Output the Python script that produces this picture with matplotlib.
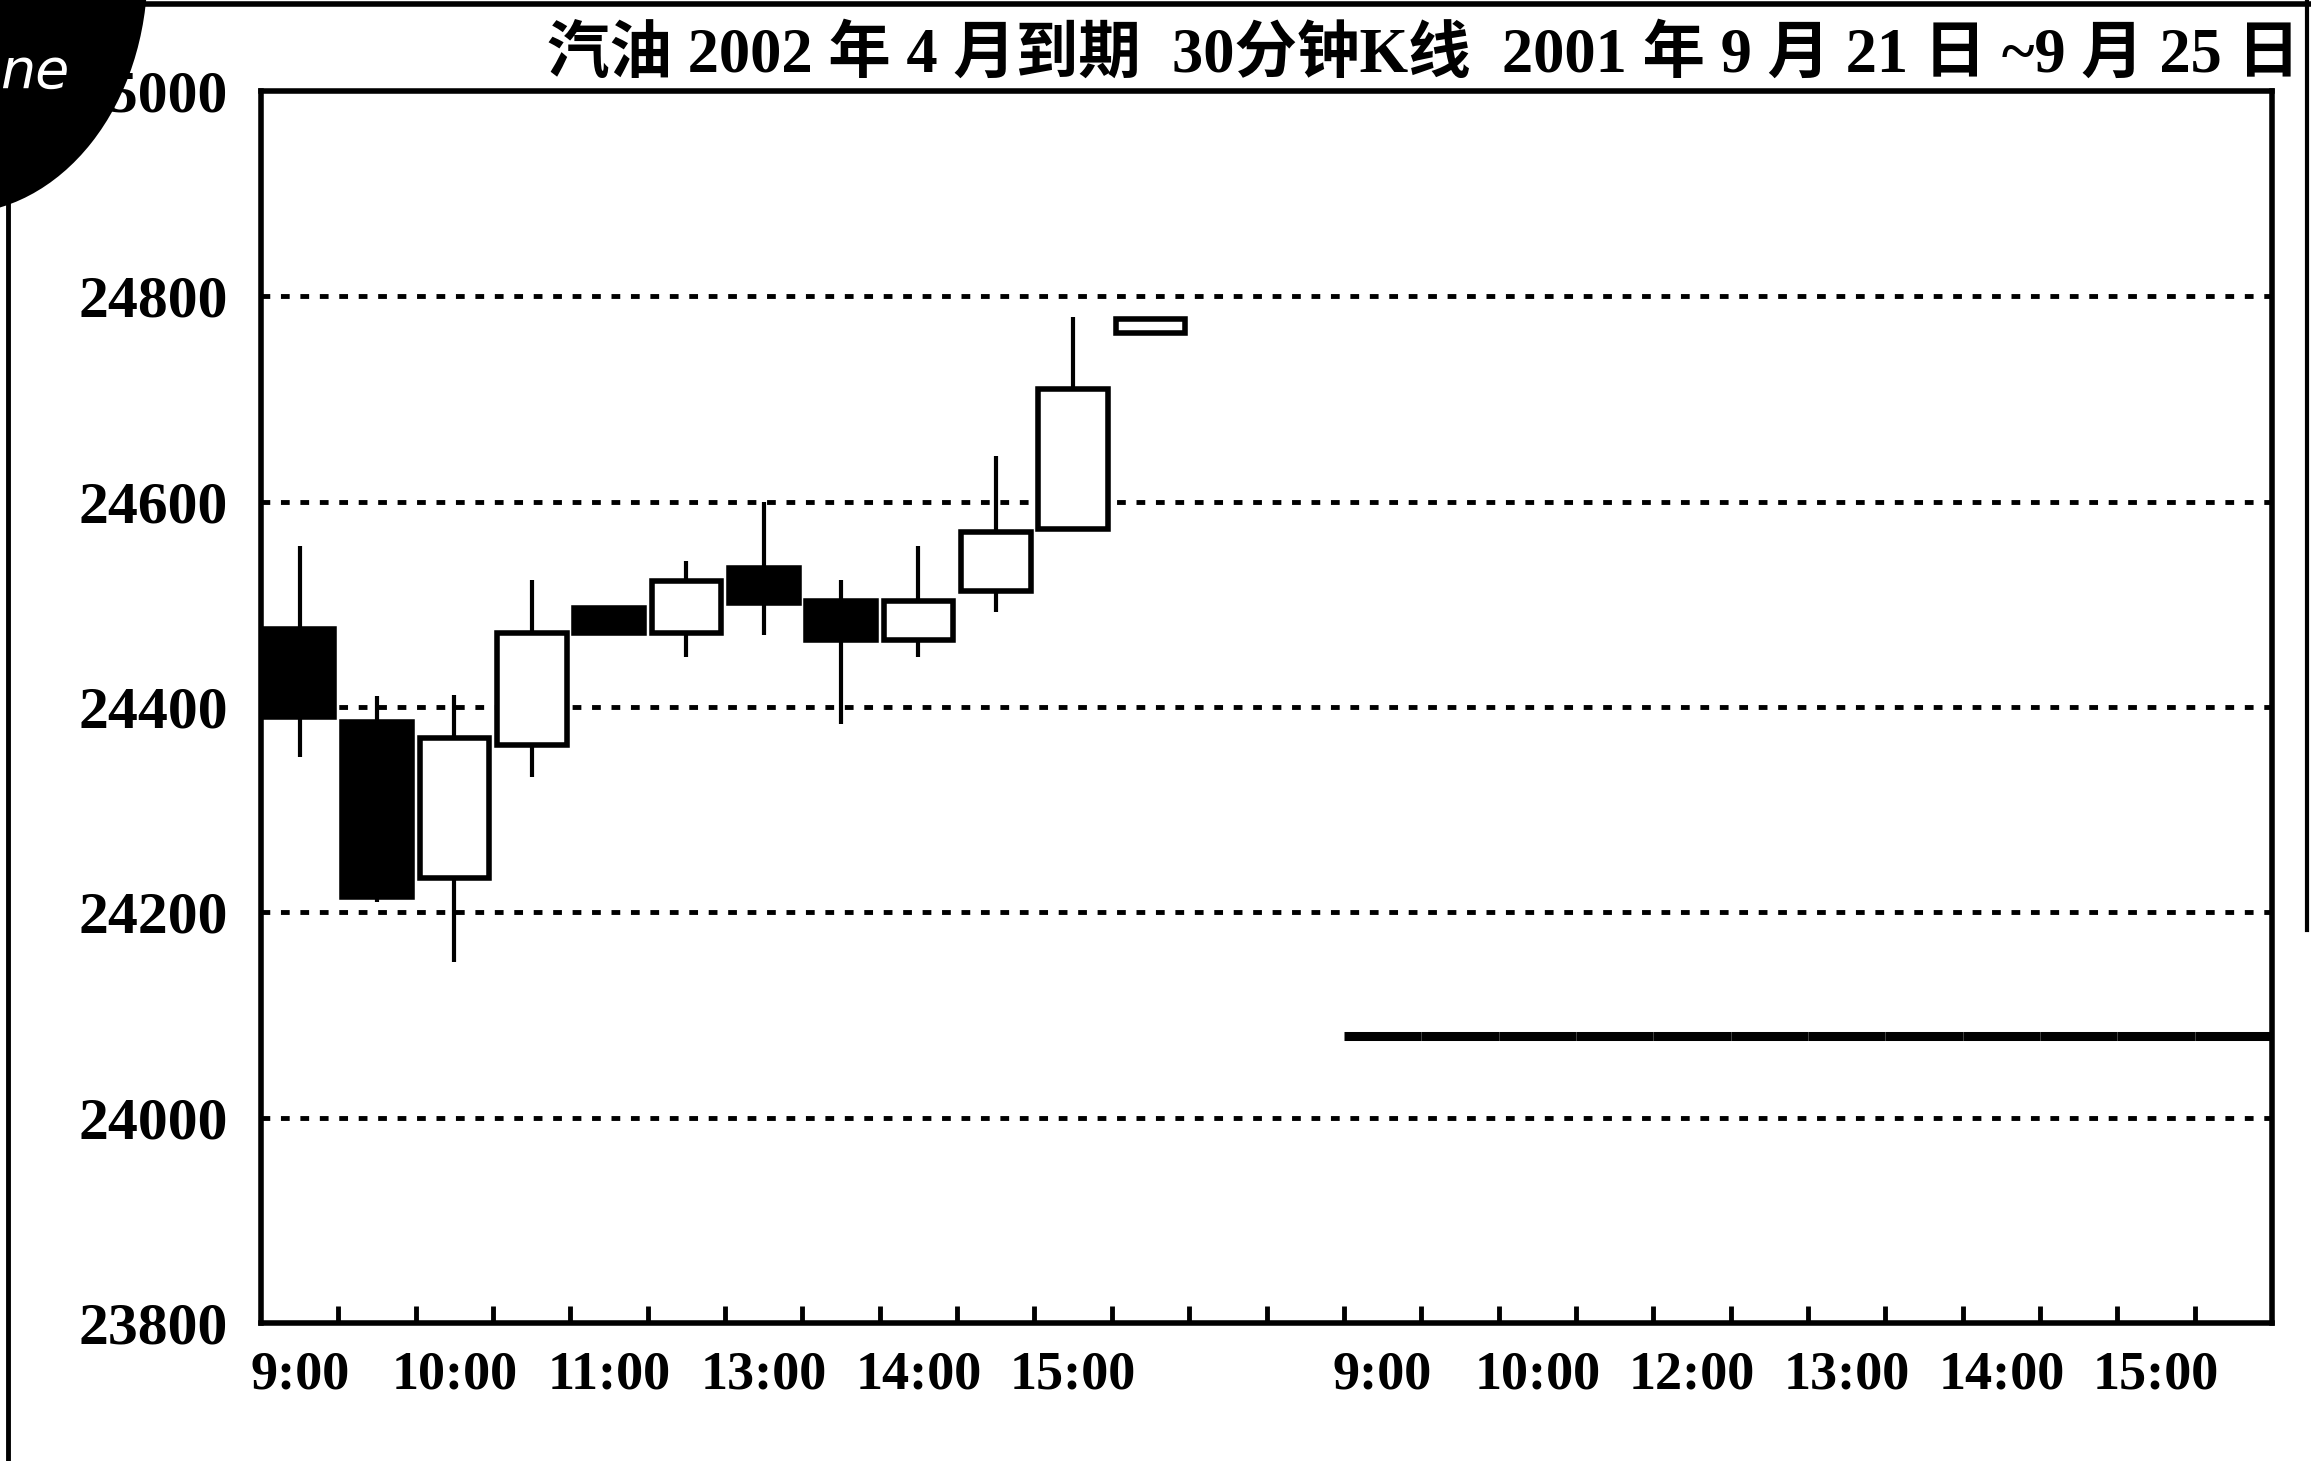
import matplotlib
matplotlib.use("Agg")
import matplotlib.pyplot as plt
from matplotlib.patches import Ellipse
from matplotlib.lines import Line2D

# ---------------- data ----------------
title = "汽油 2002 年 4 月到期  30分钟K线  2001 年 9 月 21 日 ~9 月 25 日"
# 30-minute candles (index = bar position on the x axis)
idx    = [0, 1, 2, 3, 4, 5, 6, 7, 8, 9, 10, 11,
          14, 15, 16, 17, 18, 19, 20, 21, 22, 23, 24, 25]
opens  = [24476, 24385, 24233, 24363, 24496, 24472, 24535, 24503, 24465, 24513, 24573, 24764,
          24080, 24080, 24080, 24080, 24080, 24080, 24080, 24080, 24080, 24080, 24080, 24080]
closes = [24390, 24215, 24370, 24472, 24472, 24523, 24501, 24465, 24503, 24570, 24710, 24778,
          24080, 24080, 24080, 24080, 24080, 24080, 24080, 24080, 24080, 24080, 24080, 24080]
highs  = [24557, 24411, 24412, 24524, 24496, 24542, 24600, 24524, 24557, 24644, 24780, 24778,
          24080, 24080, 24080, 24080, 24080, 24080, 24080, 24080, 24080, 24080, 24080, 24080]
lows   = [24351, 24210, 24152, 24332, 24472, 24449, 24470, 24383, 24449, 24493, 24573, 24764,
          24080, 24080, 24080, 24080, 24080, 24080, 24080, 24080, 24080, 24080, 24080, 24080]
xtick_pos    = [0, 2, 4, 6, 8, 10, 14, 16, 18, 20, 22, 24]
xtick_labels = ["9:00", "10:00", "11:00", "13:00", "14:00", "15:00",
                "9:00", "10:00", "12:00", "13:00", "14:00", "15:00"]
yticks = [23800, 24000, 24200, 24400, 24600, 24800, 25000]

# ---------------- figure ----------------
W, H = 2311, 1461
fig = plt.figure(figsize=(W / 100, H / 100), dpi=100)
fig.patch.set_facecolor("white")
ax = fig.add_axes([261 / W, 1 - 1323 / H, (2272 - 261) / W, (1323 - 91) / H])

serif = ["Liberation Serif", "Noto Sans CJK SC", "DejaVu Sans"]

body_w = 0.9
for i, o, c, h, l in zip(idx, opens, closes, highs, lows):
    if o == c:
        ax.hlines(o, i - 0.5, i + 0.5, color="black", lw=6.5, zorder=4)
        continue
    lo, hi = min(o, c), max(o, c)
    if h > hi:
        ax.vlines(i, hi, h, color="black", lw=3, zorder=3)
    if l < lo:
        ax.vlines(i, l, lo, color="black", lw=3, zorder=3)
    fc = "white" if c > o else "black"
    ax.bar(i, hi - lo, bottom=lo, width=body_w, facecolor=fc,
           edgecolor="black", linewidth=4, zorder=4)

ax.set_xlim(-0.5, 25.5)
ax.set_ylim(23800, 25000)

for y in yticks[1:-1]:
    ax.axhline(y, color="black", lw=3.5, linestyle=(0, (1.8, 2.2)), zorder=1)

ax.set_yticks(yticks)
ax.set_yticklabels([str(v) for v in yticks])
ax.tick_params(axis="y", length=0, pad=24)
ax.set_xticks(xtick_pos)
ax.set_xticklabels(xtick_labels)
ax.set_xticks([k + 0.5 for k in range(25)], minor=True)
ax.tick_params(axis="x", which="major", length=0, pad=20)
ax.tick_params(axis="x", which="minor", direction="in", length=12, width=3.5)
for lab in ax.get_yticklabels():
    lab.set_family(serif); lab.set_fontsize(43); lab.set_fontweight("bold")
for lab in ax.get_xticklabels():
    lab.set_family(serif); lab.set_fontsize(39); lab.set_fontweight("bold")

for s in ax.spines.values():
    s.set_linewidth(4)
    s.set_color("black")

fig.text(0.995, 1 - 56 / H, title, ha="right", va="center",
         fontsize=45, fontweight="bold", family=serif)

# scan artefacts: page border lines and dark corner sticker
fig.add_artist(Line2D([0, 1], [1 - 4 / H, 1 - 4 / H], color="black", lw=4,
                      transform=fig.transFigure))
fig.add_artist(Line2D([8 / W, 8 / W], [0, 1 - 200 / H], color="black", lw=3.5,
                      transform=fig.transFigure))
fig.add_artist(Line2D([2307 / W, 2307 / W], [1 - 930 / H, 1], color="black", lw=3,
                      transform=fig.transFigure))
blob = Ellipse((-44, H + 29), 383, 486, transform=None, facecolor="black",
               edgecolor="none", zorder=10)
fig.add_artist(blob)
fig.text(0.0, 1 - 72 / H, "ne", color="white", fontsize=40, style="italic",
         ha="left", va="center", zorder=11)

fig.savefig("out.png", dpi=100, facecolor="white")
